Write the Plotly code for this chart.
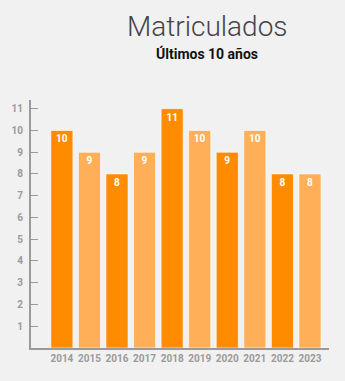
import plotly.graph_objects as go

years = ["2014", "2015", "2016", "2017", "2018", "2019", "2020", "2021", "2022", "2023"]
matriculados = [10, 9, 8, 9, 11, 10, 9, 10, 8, 8]
bar_colors = ["#FF8C00", "#FFAF58"] * 5
y_ticks = [1, 2, 3, 4, 5, 6, 7, 8, 9, 10, 11]

bg = "#F1F1F1"
axis_gray = "#9A9A9A"

fig = go.Figure()
fig.add_trace(go.Bar(
    x=years, y=matriculados,
    marker=dict(color=bar_colors, line=dict(color="rgba(255,255,255,0.6)", width=1)),
    text=[str(v) for v in matriculados],
    textposition="inside", insidetextanchor="end",
    textangle=0,
    textfont=dict(family="Roboto", size=10, color="white", weight="bold"),
    cliponaxis=False,
))

fig.update_layout(
    width=345, height=381,
    margin=dict(l=31, r=16, t=100, b=33),
    paper_bgcolor=bg, plot_bgcolor=bg,
    bargap=0.2,
    showlegend=False,
    font=dict(family="Roboto"),
    annotations=[
        dict(text="Matriculados", xref="paper", yref="paper", x=(207.5 - 31) / 298, y=1 + (100 - 26) / 248,
             xanchor="center", yanchor="middle", showarrow=False,
             font=dict(family="Roboto", size=28, color="#444444", weight=300)),
        dict(text="<b>Últimos 10 años</b>", xref="paper", yref="paper", x=(207.5 - 31) / 298, y=1 + (100 - 53) / 248,
             xanchor="center", yanchor="middle", showarrow=False,
             font=dict(family="Roboto", size=14, color="#111111")),
    ],
)
fig.update_xaxes(
    type="category", range=[-1.12, 9.69],
    showline=True, linecolor=axis_gray, linewidth=2,
    ticks="", showgrid=False,
    tickfont=dict(family="Roboto", size=10, color=axis_gray, weight="bold"),
    fixedrange=True,
)
fig.update_yaxes(
    range=[0, 11.4],
    tickvals=y_ticks, ticktext=[str(t) for t in y_ticks],
    showline=True, linecolor=axis_gray, linewidth=2,
    ticks="inside", ticklen=7, tickcolor=axis_gray, tickwidth=1,
    showgrid=False, zeroline=False,
    tickfont=dict(family="Roboto", size=10, color=axis_gray, weight="bold"),
    ticklabelstandoff=4,
    fixedrange=True,
)

fig.write_html("out.html", config={"displayModeBar": False})
